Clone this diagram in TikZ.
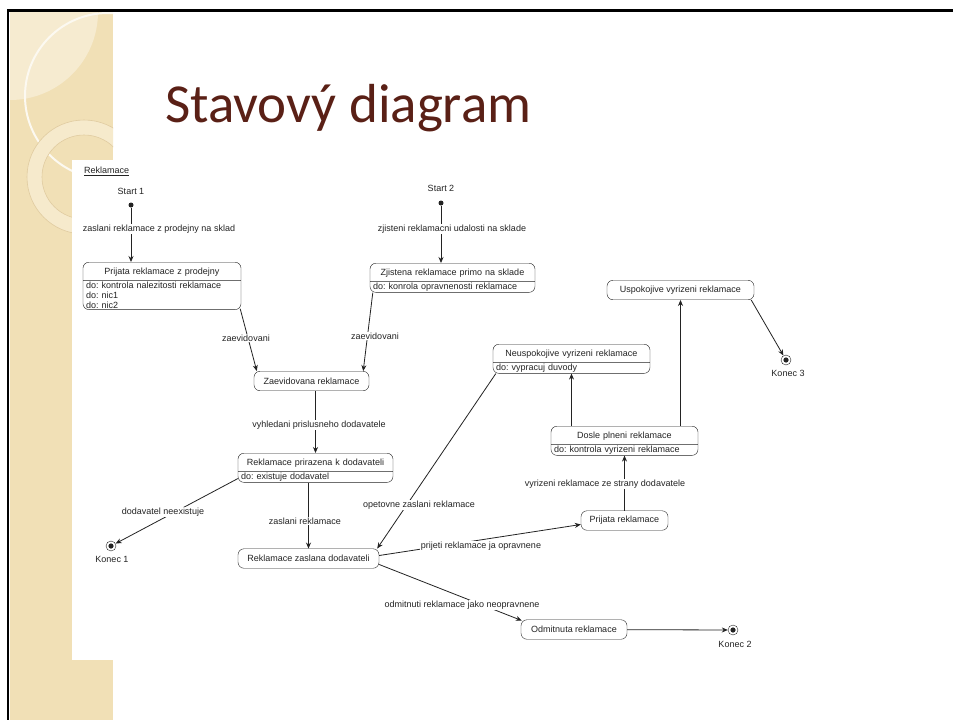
\documentclass[tikz,border=0pt]{standalone}
\usepackage{fontspec}
\setmainfont{Liberation Sans}
\newfontfamily\titlefont{Carlito}
\usetikzlibrary{arrows.meta,shapes.multipart}

\definecolor{titlebrown}{RGB}{90,32,22}
\definecolor{panelbeige}{RGB}{241,224,182}
\definecolor{panellight}{RGB}{246,235,208}
\definecolor{ringcream}{RGB}{246,234,204}
\definecolor{ringedge}{RGB}{224,203,160}
\definecolor{inkgray}{RGB}{35,35,35}

\frenchspacing
\newcommand\dfont{\fontsize{9}{10}\selectfont}
\newcommand\ttl[1]{\centering\rule[-5pt]{0pt}{16pt}#1\par}

\tikzset{
  statebox/.style={draw=inkgray, rounded corners=6pt, font=\dfont, text=inkgray, inner sep=0pt, minimum height=19.5pt},
  splitbox/.style={draw=inkgray, rounded corners=6pt, font=\dfont, text=inkgray, rectangle split, rectangle split parts=2, align=left, inner xsep=3pt, inner ysep=1pt, anchor=north},
  startdot/.style={circle, fill=inkgray, inner sep=0pt, minimum size=5pt},
  enddot/.style={circle, draw=inkgray, inner sep=0pt, minimum size=10pt, path picture={\fill[inkgray] (path picture bounding box.center) circle (2.6pt);}},
  lbl/.style={font=\dfont, text=inkgray, fill=white, inner sep=1pt},
  plaintext/.style={font=\dfont, text=inkgray, inner sep=0pt},
  trans/.style={draw=inkgray, line width=0.8pt, -{Stealth[length=6pt,width=5pt]}}
}

\begin{document}
\begin{tikzpicture}[x=1pt, y=-1pt]
\useasboundingbox (0,0) rectangle (953,720);
% slide background
\fill[white] (0,0) rectangle (953,720);
\fill[panelbeige] (10,12) rectangle (113,720);
\begin{scope}
  \clip (10,12) rectangle (113,720);
  \fill[panellight] (10,12) circle (88);
  \draw[white!70!panellight, line width=2pt] (108,96) circle (83);
  \fill[ringcream, even odd rule] (84,177) circle (57) (84,177) circle (42);
  \draw[ringedge, line width=0.6pt] (84,177) circle (57) (84,177) circle (42);
\end{scope}
\fill[white] (72,160) rectangle (114,660);
\draw[black, line width=3pt] (8,10.5) -- (953,10.5);
\draw[black, line width=2.5pt] (8,9) -- (8,720);

\node[anchor=base west, inner sep=0pt, font=\titlefont\fontsize{55}{60}\selectfont, text=titlebrown] (title) at (165,122) {Stavový diagram};

% diagram
\node[plaintext, anchor=west] (diagname) at (84,171) {\underline{Reklamace}};

\node[startdot] (s1) at (131,205) {};
\node[plaintext] (st1) at (131,191) {Start 1};
\node[startdot] (s2) at (441,203) {};
\node[plaintext] (st2) at (441,188) {Start 2};

\node[splitbox, text width=152pt] (b1) at (162,262) {\ttl{Prijata reklamace z prodejny}\nodepart{two}do: kontrola nalezitosti reklamace\\do: nic1\\do: nic2};
\node[splitbox, text width=159pt] (b2) at (452.5,263) {\ttl{Zjistena reklamace primo na sklade}\nodepart{two}do: konrola opravnenosti reklamace};
\node[splitbox, text width=149pt] (b4) at (315.5,453) {\ttl{Reklamace prirazena k dodavateli}\nodepart{two}do: existuje dodavatel};
\node[splitbox, text width=151pt] (b8) at (571.5,344) {\ttl{Neuspokojive vyrizeni reklamace}\nodepart{two}do: vypracuj duvody};
\node[splitbox, text width=141pt] (b9) at (624.5,426) {\ttl{Dosle plneni reklamace}\nodepart{two}do: kontrola vyrizeni reklamace};

\foreach \n/\x/\y/\w/\t in {b3/311.5/381/115/Zaevidovana reklamace, b5/308.5/558.5/141/Reklamace zaslana dodavateli, b6/624.5/520.5/87/Prijata reklamace, b7/574/629.5/106/Odmitnuta reklamace, b10/680.5/290/147/Uspokojive vyrizeni reklamace}
    \node[statebox, minimum width=\w pt] (\n) at (\x,\y) {\t};

\foreach \k/\x/\y in {1/111/546, 2/733/630, 3/786/360}
    \node[enddot] (k\k) at (\x,\y) {};
\node[plaintext] (kl1) at (112,559) {Konec 1};
\node[plaintext] (kl2) at (735,644) {Konec 2};
\node[plaintext] (kl3) at (788,373) {Konec 3};

\draw[trans] (s1) -- (s1 |- b1.north);
\draw[trans] (s2) -- (s2 |- b2.north);
\draw[trans] ([xshift=-1pt,yshift=1pt]b1.south east) -- ([xshift=3pt]b3.north west);
\draw[trans] ([xshift=3pt]b2.south west) -- ([xshift=-6pt]b3.north east);
\draw[trans] (b3.south -| b4.north) -- (b4.north);
\draw[trans] ([yshift=4pt]b4.south west) -- (k1);
\draw[trans] (b4.south -| b5.north) -- (b5.north);
\draw[trans] ([xshift=3pt]b8.south west) -- ([xshift=-2pt]b5.north east);
\draw[trans] ([yshift=3pt]b5.east) -- ([yshift=-4pt]b6.west);
\draw[trans] ([yshift=-6pt]b5.east) -- ([xshift=1pt,yshift=-1pt]b7.north west);
\draw[trans] (b7) -- (k2);
\draw[trans] (b6) -- (b9.south);
\draw[trans] (b8.south |- b9.north) -- (b8.south);
\draw[trans] (b10.south |- b9.north) -- (b10.south);
\draw[trans] ([xshift=-3pt]b10.south east) -- (k3);

\foreach \n/\x/\y/\t in {l1/159/229/zaslani reklamace z prodejny na sklad, l2/452/229/zjisteni reklamacni udalosti na sklade, l3/246/338/zaevidovani, l4/375/336/zaevidovani, l5/319/425/vyhledani prislusneho dodavatele, l6/163/512/dodavatel neexistuje, l7/305/521/zaslani reklamace, l8/419/505/opetovne zaslani reklamace, l9/481/546/prijeti reklamace ja opravnene, l10/605/484/vyrizeni reklamace ze strany dodavatele, l11/462/605/odmitnuti reklamace jako neopravnene}
    \node[lbl] (\n) at (\x,\y) {\t};
\end{tikzpicture}
\end{document}
